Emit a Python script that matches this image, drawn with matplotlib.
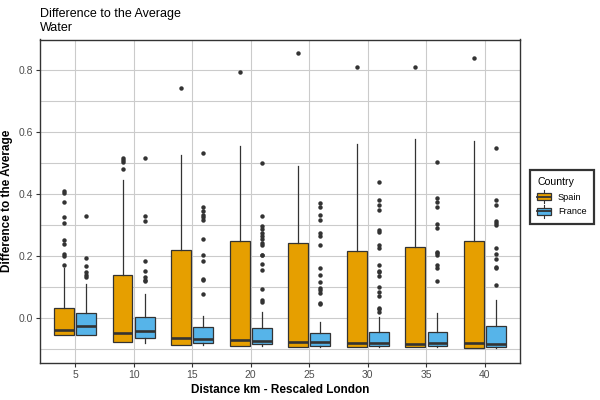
import matplotlib
matplotlib.use("Agg")
import matplotlib.pyplot as plt
from matplotlib.patches import Rectangle, Patch
from matplotlib.lines import Line2D
from matplotlib.legend_handler import HandlerBase

plt.rcParams['font.family'] = ['Liberation Sans', 'DejaVu Sans']

# ============== data ==============
distances = [5, 10, 15, 20, 25, 30, 35, 40]
countries = ["Spain", "France"]

spain_q1 = [-0.055, -0.077, -0.087, -0.090, -0.093, -0.093, -0.093, -0.096]
spain_med = [-0.037, -0.046, -0.063, -0.070, -0.076, -0.078, -0.082, -0.078]
spain_q3 = [0.032, 0.138, 0.2215, 0.250, 0.241, 0.216, 0.228, 0.248]
spain_lo = [-0.055, -0.077, -0.087, -0.090, -0.093, -0.093, -0.093, -0.096]
spain_hi = [0.162, 0.444, 0.524, 0.553, 0.489, 0.562, 0.576, 0.569]
spain_out = [
    [0.411, 0.403, 0.373, 0.325, 0.307, 0.251, 0.238, 0.208, 0.200, 0.173],
    [0.517, 0.510, 0.502, 0.479],
    [0.742],
    [0.791],
    [0.853],
    [0.810],
    [0.810],
    [0.836],
]

france_q1 = [-0.055, -0.064, -0.080, -0.083, -0.088, -0.088, -0.090, -0.093]
france_med = [-0.024, -0.040, -0.066, -0.073, -0.076, -0.079, -0.078, -0.081]
france_q3 = [0.016, 0.003, -0.029, -0.032, -0.048, -0.045, -0.045, -0.026]
france_lo = [-0.055, -0.078, -0.087, -0.090, -0.091, -0.093, -0.093, -0.096]
france_hi = [0.112, 0.080, 0.0075, 0.019, -0.012, 0.004, 0.017, 0.059]
france_out = [
    [0.330, 0.195, 0.169, 0.148, 0.140, 0.133],
    [0.516, 0.330, 0.314, 0.185, 0.153, 0.132, 0.125, 0.121],
    [0.532, 0.358, 0.344, 0.334, 0.326, 0.318, 0.255, 0.205, 0.184, 0.127, 0.122, 0.078],
    [0.4997, 0.329, 0.296, 0.287, 0.276, 0.265, 0.255, 0.244, 0.235, 0.205, 0.203,
     0.174, 0.155, 0.094, 0.059, 0.053],
    [0.371, 0.358, 0.331, 0.318, 0.275, 0.264, 0.2365, 0.163, 0.139, 0.118, 0.097,
     0.091, 0.082, 0.050, 0.046],
    [0.4377, 0.381, 0.365, 0.348, 0.284, 0.278, 0.2365, 0.227, 0.172, 0.153, 0.148,
     0.136, 0.102, 0.086, 0.073, 0.035, 0.029, 0.020],
    [0.502, 0.387, 0.3745, 0.358, 0.305, 0.291, 0.215, 0.210, 0.203, 0.172, 0.1605, 0.121],
    [0.548, 0.381, 0.365, 0.3135, 0.308, 0.3007, 0.227, 0.2065, 0.1926, 0.166, 0.1605, 0.108],
]

colors = {"Spain": "#E69F00", "France": "#56B4E9"}
edge = "#333333"


def make_stats(q1, med, q3, lo, hi, out):
    return [dict(q1=a, med=b, q3=c, whislo=d, whishi=e, fliers=f)
            for a, b, c, d, e, f in zip(q1, med, q3, lo, hi, out)]


class BoxKey(HandlerBase):
    # ggplot-like boxplot legend glyph
    def create_artists(self, legend, orig_handle, xdescent, ydescent,
                       width, height, fontsize, trans):
        x0, y0 = -xdescent, -ydescent
        fc = orig_handle.get_facecolor()
        xm = x0 + width / 2
        w1 = Line2D([xm, xm], [y0 - 0.05 * height, y0 + 0.17 * height],
                    color=edge, lw=0.8, transform=trans)
        w2 = Line2D([xm, xm], [y0 + 0.83 * height, y0 + 1.05 * height],
                    color=edge, lw=0.8, transform=trans)
        rect = Rectangle((x0, y0 + 0.17 * height), width, 0.66 * height,
                         facecolor=fc, edgecolor=edge, lw=0.9, transform=trans)
        med = Line2D([x0, x0 + width], [y0 + 0.5 * height] * 2,
                     color=edge, lw=1.3, transform=trans)
        return [w1, w2, rect, med]


fig = plt.figure(figsize=(6, 4), dpi=100)
ax = fig.add_axes([40 / 600, 1 - 363 / 400, 480 / 600, 323.5 / 400])

pos = list(range(1, len(distances) + 1))
groups = [
    ("Spain", make_stats(spain_q1, spain_med, spain_q3, spain_lo, spain_hi, spain_out), -0.19),
    ("France", make_stats(france_q1, france_med, france_q3, france_lo, france_hi, france_out), 0.19),
]
for name, stats, off in groups:
    ax.bxp(stats, positions=[p + off for p in pos], widths=0.34,
           patch_artist=True, showcaps=False, manage_ticks=False,
           boxprops=dict(facecolor=colors[name], edgecolor=edge, lw=0.9),
           medianprops=dict(color=edge, lw=1.9),
           whiskerprops=dict(color=edge, lw=0.9),
           flierprops=dict(marker='o', markersize=3.2, markerfacecolor=edge,
                           markeredgecolor=edge, markeredgewidth=0))

ax.set_xlim(0.4, 8.6)
ax.set_ylim(-0.1435, 0.897)
ax.set_xticks(pos)
ax.set_xticklabels([str(d) for d in distances])
ax.set_yticks([0.0, 0.2, 0.4, 0.6, 0.8])
ax.set_yticklabels(["0.0", "0.2", "0.4", "0.6", "0.8"])
ax.set_yticks([-0.1, 0.1, 0.3, 0.5, 0.7], minor=True)
ax.tick_params(axis='both', which='major', length=3, width=0.8, color=edge,
               labelsize=7.5, labelcolor='#4D4D4D', pad=2)
ax.tick_params(axis='y', which='minor', length=0)
ax.grid(True, which='both', color='#cbcbcb', lw=0.8)
ax.set_axisbelow(True)
for s in ax.spines.values():
    s.set_color(edge)
    s.set_linewidth(1.0)

ax.set_xlabel("Distance km - Rescaled London", fontsize=8.5, fontweight='bold', labelpad=3)
ax.set_ylabel("Difference to the Average", fontsize=8.5, fontweight='bold', labelpad=4)
ax.set_title("Difference to the Average\nWater", loc='left', fontsize=9, pad=6,
             linespacing=1.2)

handles = [Patch(facecolor=colors[c], edgecolor=edge) for c in countries]
leg = fig.legend(handles, countries, title="Country", loc='upper left',
                 bbox_to_anchor=(530 / 600, 1 - 170 / 400), bbox_transform=fig.transFigure,
                 borderaxespad=0, fontsize=6.6, title_fontsize=7.6,
                 handler_map={Patch: BoxKey()}, handlelength=1.45, handleheight=1.5,
                 handletextpad=0.8, labelspacing=0.4, borderpad=0.8, fancybox=False,
                 alignment='left')
leg.get_frame().set_edgecolor('black')
leg.get_frame().set_linewidth(1.6)

fig.savefig("out.png", dpi=100)
